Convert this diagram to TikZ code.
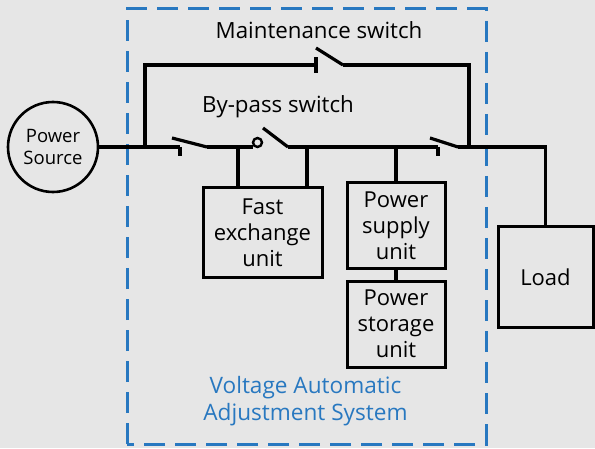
\documentclass[tikz,border=0pt]{standalone}
\usepackage{fontspec}
\setmainfont{Open Sans}
\usetikzlibrary{positioning}
\definecolor{fondo}{RGB}{230,230,230}
\definecolor{azul}{RGB}{40,120,192}

\begin{document}
\begin{tikzpicture}[x=1pt, y=1pt, line width=3.2pt,
    caja/.style={draw, line width=3pt, align=center, inner sep=0pt,
      font=\fontsize{22}{26}\selectfont},
    texto/.style={align=center, font=\fontsize{22.3}{26}\selectfont}]
    % Fondo y marco
    \fill[fondo] (0,0) rectangle (595,448);
    \useasboundingbox (0,0) rectangle (595,448);

    % Sistema (recuadro punteado)
    \draw[azul, line width=3pt, dash pattern=on 21pt off 10pt] (127,4) rectangle (486,439);
    \node[texto, azul, font=\fontsize{22.6}{27}\selectfont] (sistema) at (305.5,47)
      {Voltage Automatic\\Adjustment System};

    % Bloques
    \node[circle, draw, line width=2.6pt, minimum size=90pt, inner sep=0pt,
      align=center, font=\fontsize{18.5}{22}\selectfont] (fuente) at (53,301) {Power\\Source};
    \node[caja, minimum width=119pt, minimum height=89pt] (rapida) at (262.5,215.5) {Fast\\exchange\\unit};
    \node[caja, minimum width=98pt, minimum height=85pt] (alim) at (396,222.5) {Power\\supply\\unit};
    \node[caja, minimum width=98pt, minimum height=86pt] (almac) at (396,124) {Power\\storage\\unit};
    \node[caja, minimum width=95pt, minimum height=100pt] (carga) at (545.5,171) {Load};

    % Etiquetas de los interruptores
    \node[texto] (mant) at (319,418) {Maintenance switch};
    \node[texto] (bypass) at (278,341) {By-pass switch};

    % Puntos de la barra
    \coordinate (izq) at (145,301);
    \coordinate (der) at (469,301);
    \coordinate (s1) at (180,301);
    \coordinate (s1b) at (207,301);
    \coordinate (s2) at (253,301);
    \coordinate (s2b) at (288,301);
    \coordinate (s3) at (438,301);
    \coordinate (s3b) at (458,301);
    \coordinate (sm) at (316,383);
    \coordinate (smb) at (343,383);

    % Barra principal con interruptores
    \draw (fuente.east) -- (s1);
    \draw (s1) -- ++(0,-9);
    \draw (s1b) -- ++(-35,9);
    \draw (s1b) -- (s2);
    \draw[line width=2.4pt] (s2) ++(4.5,4.5) circle[radius=4.5];
    \draw (s2b) -- ++(-25,19);
    \draw (s2b) -- (s3);
    \draw (s3) -- ++(0,-9);
    \draw (s3b) -- ++(-28,9);
    \draw (s3b) -| (carga.north);

    % Interruptor de mantenimiento
    \draw (izq) |- (sm);
    \draw (sm) ++(0,-8) -- ++(0,16);
    \draw (smb) -- ++(-27,17);
    \draw (smb) -| (der);

    % Derivaciones a las unidades
    \draw ([xshift=-24.5pt]rapida.north) -- ++(0,41);
    \draw ([xshift=44.5pt]rapida.north) -- ++(0,41);
    \draw (alim.north) -- ++(0,36);
    \draw (alim) -- (almac);
\end{tikzpicture}
\end{document}
